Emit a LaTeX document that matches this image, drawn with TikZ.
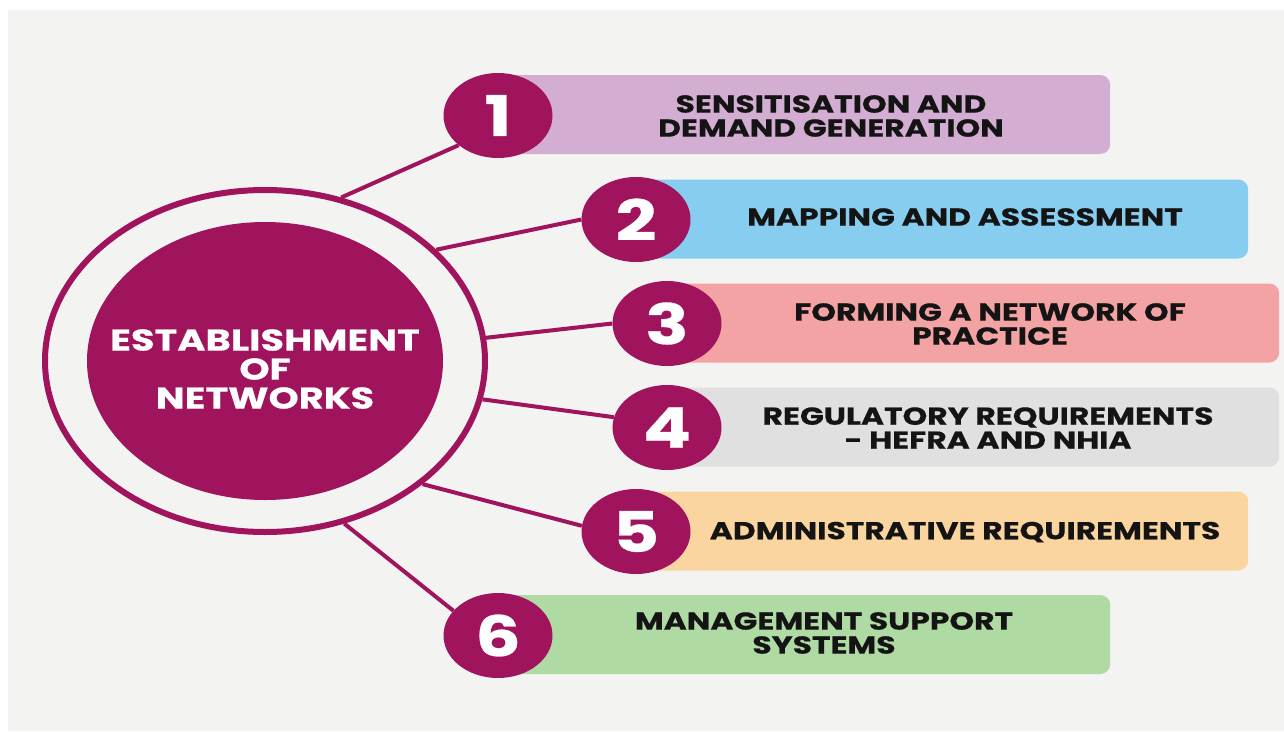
\documentclass[tikz,border=0pt]{standalone}
\usepackage{fontspec}
\newfontfamily\popfont[FakeStretch=1.28, BoldFeatures={FakeBold=0.5}]{Poppins}
\usetikzlibrary{shapes.geometric}
\definecolor{plum}{HTML}{A0145E}
\definecolor{bgc}{HTML}{F3F3F2}
\definecolor{ink}{HTML}{141414}
\definecolor{cA}{HTML}{D4AED2}
\definecolor{cB}{HTML}{86CDF0}
\definecolor{cC}{HTML}{F3A3A3}
\definecolor{cD}{HTML}{E0E0E0}
\definecolor{cE}{HTML}{FAD5A0}
\definecolor{cF}{HTML}{B0DAA4}
\tikzset{
  bar/.style={rectangle, rounded corners=10pt, minimum width=612pt, minimum height=79pt, anchor=west, inner sep=0pt},
  num/.style={ellipse, fill=plum, minimum width=109pt, minimum height=85pt, inner sep=0pt, text=white, font=\popfont\bfseries\fontsize{56}{56}\selectfont},
  lbl/.style={align=center, text=ink, font=\popfont\bfseries\fontsize{24.5}{24}\selectfont, inner sep=0pt},
  conn/.style={draw=plum, line width=4pt},
}
\begin{document}
\begin{tikzpicture}[x=1pt,y=-1pt]
\useasboundingbox (0,0) rectangle (1284,731);
\fill[white] (0,0) rectangle (1284,731);
\fill[bgc] (8,10) rectangle (1284,731);
% bars
\node[bar, fill=cA] (b1) at (498,114.5) {};
\node[bar, fill=cB] (b2) at (636,219) {};
\node[bar, fill=cC] (b3) at (667,323) {};
\node[bar, fill=cD] (b4) at (667,427) {};
\node[bar, fill=cE] (b5) at (636,531) {};
\node[bar, fill=cF] (b6) at (498,634.5) {};
% labels
\node[lbl] (t1) at (831,116) {SENSITISATION AND\\DEMAND GENERATION};
\node[lbl] (t2) at (965,217) {MAPPING AND ASSESSMENT};
\node[lbl] (t3) at (990,324) {FORMING A NETWORK OF\\PRACTICE};
\node[lbl] (t4) at (988,428) {REGULATORY REQUIREMENTS\\- HEFRA AND NHIA};
\node[lbl] (t5) at (965,532) {ADMINISTRATIVE REQUIREMENTS};
\node[lbl] (t6) at (824,633) {MANAGEMENT SUPPORT\\SYSTEMS};
% central ring and disc
\node[ellipse, draw=plum, line width=6pt, minimum width=440pt, minimum height=342pt, inner sep=0pt] (ring) at (265,361) {};
\node[ellipse, fill=plum, minimum width=356pt, minimum height=278pt, inner sep=0pt] (core) at (265,361) {};
\node[align=center, text=white, inner sep=0pt,
      font=\popfont\bfseries\fontsize{30}{29}\selectfont] (ctext) at (265,369) {ESTABLISHMENT\\OF\\NETWORKS};
% number circles
\node[num] (n1) at (498,115.5) {1};
\node[num] (n2) at (636,219.5) {2};
\node[num] (n3) at (667,323.5) {3};
\node[num] (n4) at (667,427.5) {4};
\node[num] (n5) at (636,531.5) {5};
\node[num] (n6) at (498,635.5) {6};
% connectors
\draw[conn] (ring.65.8) -- (n1.217);
\draw[conn] (ring.33.9) -- (n2.180.5);
\draw[conn] (ring.6.7) -- (n3.180.5);
\draw[conn] (ring.-10.3) -- (n4.169);
\draw[conn] (ring.-38.5) -- (n5.174);
\draw[conn] (ring.-64.7) -- (n6.151);
\end{tikzpicture}
\end{document}
